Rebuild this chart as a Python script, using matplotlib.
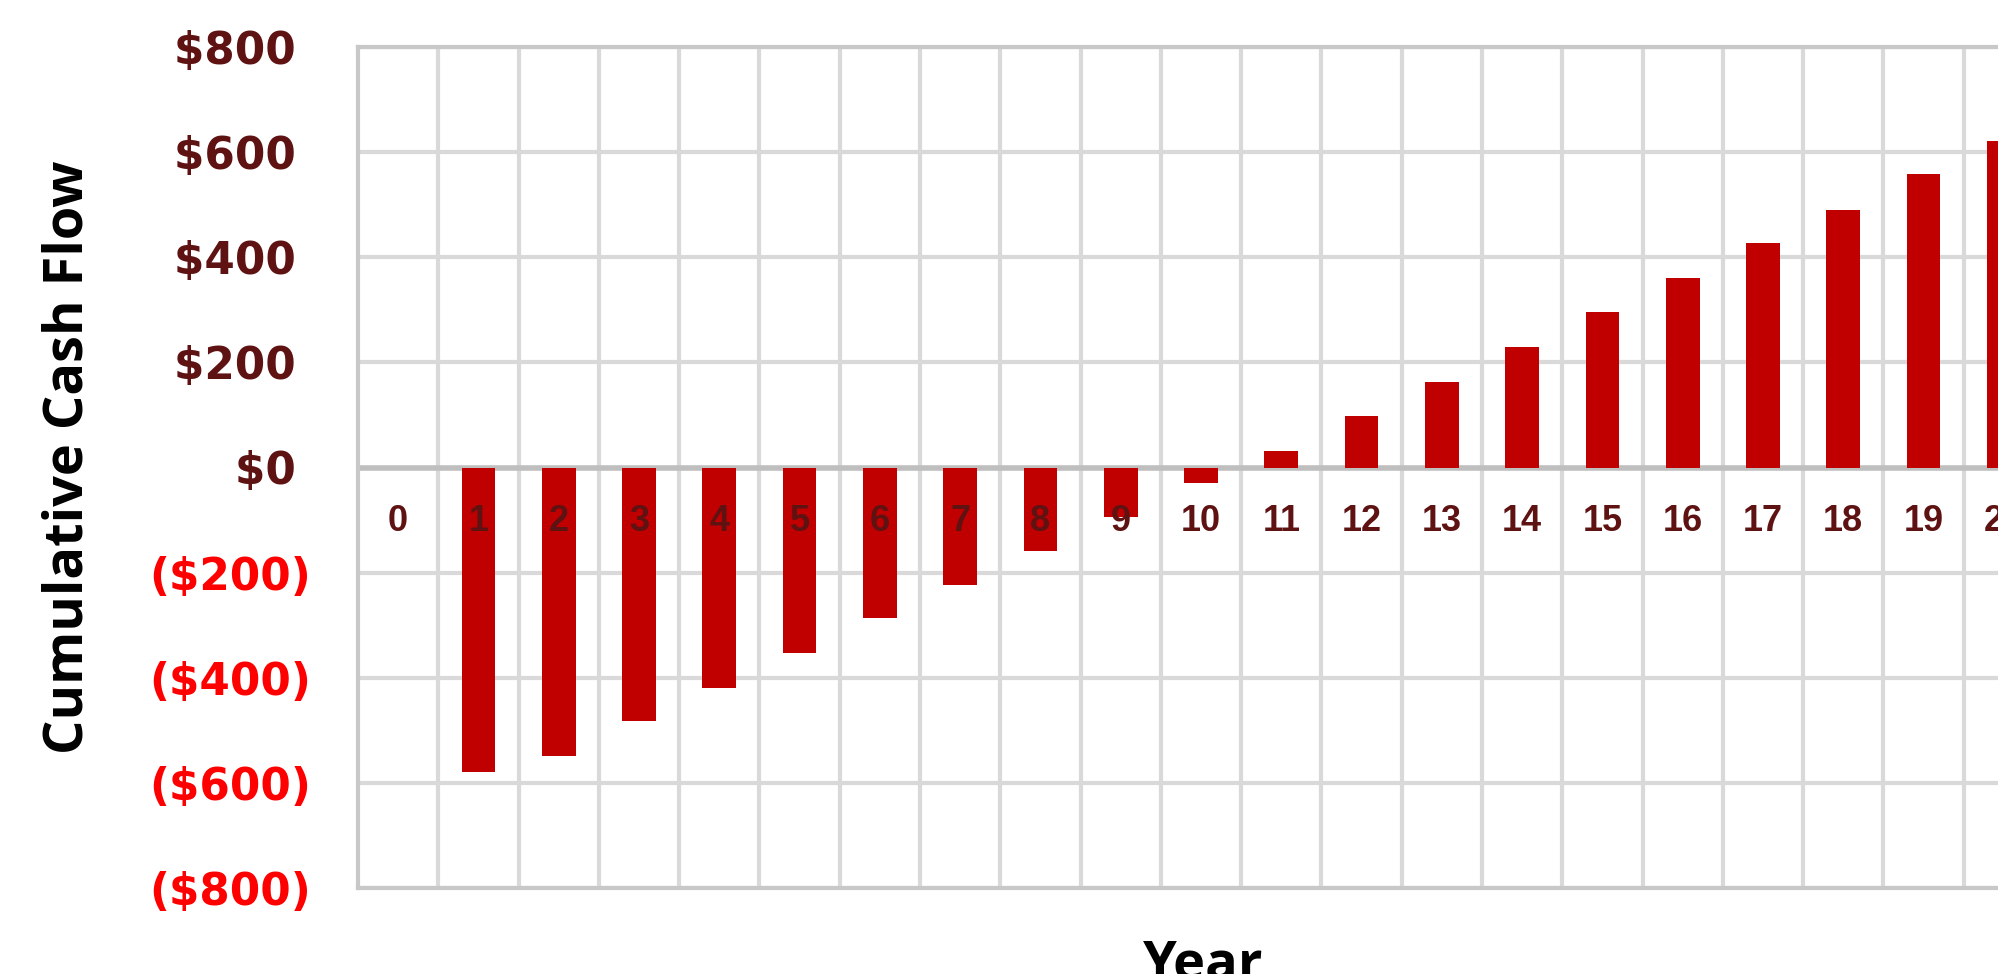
import numpy as np
import matplotlib
matplotlib.use("Agg")
import matplotlib.pyplot as plt

# cumulative cash flow per year
years = list(range(0, 21))
cash_flow = [0, -579, -549, -482, -419, -353, -287, -223, -158, -95, -30,
             32, 98, 162, 229, 296, 360, 427, 490, 558, 621]
y_ticks = [800, 600, 400, 200, 0, -200, -400, -600, -800]

bar_color = "#C00000"
grid_color = "#D9D9D9"
pos_color = "#5E1212"
neg_color = "#FF0000"

fig = plt.figure(figsize=(19.98, 9.74), dpi=100)
# axes runs past the right edge, the source image was cropped
ax = fig.add_axes([358 / 1998, 86 / 974, 1686 / 1998, 841 / 974])

x = np.arange(len(years))
ax.bar(x, cash_flow, width=0.42, color=bar_color, zorder=3)

ax.set_xlim(-0.5, len(years) - 0.5)
ax.set_ylim(-800, 800)

# vertical grid between categories
ax.set_xticks(x + 0.5, minor=True)
ax.set_xticks([])
ax.grid(True, which="minor", axis="x", color=grid_color, linewidth=3, zorder=1)
ax.set_yticks(y_ticks)
ax.grid(True, which="major", axis="y", color=grid_color, linewidth=3, zorder=1)
ax.axhline(0, color="#BFBFBF", linewidth=4, zorder=2)
ax.tick_params(axis="both", which="both", length=0)

labels = []
for v in y_ticks:
    if v < 0:
        labels.append(f"(${abs(v)})")
    else:
        labels.append(f"${v} ")
ax.set_yticklabels(labels, fontfamily="DejaVu Sans", fontweight="heavy", fontsize=31.5)
ax.tick_params(axis="y", pad=34)
for lab, v in zip(ax.get_yticklabels(), y_ticks):
    lab.set_color(neg_color if v < 0 else pos_color)

for sp in ["left", "top", "bottom"]:
    ax.spines[sp].set_color("#C8C8C8")
    ax.spines[sp].set_linewidth(3)
ax.spines["right"].set_visible(False)

# year labels sit just under the zero line
for i, yr in enumerate(years):
    ax.text(i, -102, str(yr), ha="center", va="center", fontsize=26,
            fontfamily="Liberation Sans", fontweight="bold", color=pos_color, zorder=4)

fig.text(69 / 1998, 1 - 457 / 974, "Cumulative Cash Flow", rotation=90,
         ha="center", va="center", fontsize=39, fontfamily="Open Sans",
         fontweight="bold", color="black")
fig.text(1203 / 1998, 1 - 938 / 974, "Year", ha="center", va="top",
         fontsize=39, fontfamily="Open Sans", fontweight="bold", color="black")

fig.savefig("out.png", dpi=100, facecolor="white")
